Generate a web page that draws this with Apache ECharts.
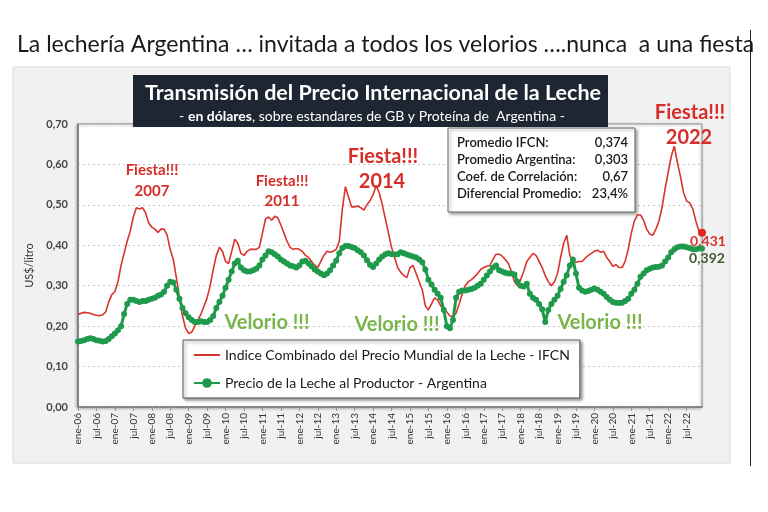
<!DOCTYPE html>
<html><head><meta charset="utf-8">
<script src="https://cdn.jsdelivr.net/npm/echarts@6.0.0/dist/echarts.min.js"></script>
<style>html,body{margin:0;padding:0;background:#fff}#c{width:768px;height:512px}</style>
</head><body><div id="c"></div>
<script>
// ---- DATA ----
const monthNames = ['ene','feb','mar','abr','may','jun','jul','ago','sep','oct','nov','dic'];
const yearLabels = ['06','07','08','09','10','11','12','13','14','15','16','17','18','19','20','21','22'];
const ifcn = [
0.228,0.232,0.234,0.233,0.232,0.229,0.227,0.226,0.228,0.235,
0.26,0.278,0.285,0.31,0.35,0.38,0.41,0.435,0.47,0.493,
0.49,0.493,0.48,0.455,0.445,0.44,0.432,0.44,0.44,0.425,
0.39,0.365,0.32,0.27,0.225,0.195,0.182,0.185,0.2,0.215,
0.23,0.25,0.27,0.3,0.34,0.375,0.395,0.385,0.36,0.355,
0.385,0.415,0.405,0.38,0.375,0.385,0.39,0.39,0.39,0.395,
0.43,0.465,0.47,0.462,0.472,0.468,0.45,0.43,0.41,0.395,
0.39,0.392,0.39,0.385,0.375,0.37,0.36,0.35,0.345,0.36,
0.375,0.385,0.383,0.385,0.39,0.41,0.49,0.545,0.52,0.495,
0.495,0.497,0.493,0.487,0.5,0.51,0.525,0.548,0.53,0.5,
0.465,0.43,0.395,0.37,0.345,0.333,0.325,0.32,0.345,0.35,
0.33,0.31,0.29,0.25,0.24,0.255,0.27,0.265,0.25,0.242,
0.235,0.225,0.223,0.232,0.255,0.28,0.3,0.31,0.315,0.322,
0.33,0.34,0.345,0.348,0.35,0.365,0.378,0.378,0.373,0.365,
0.355,0.335,0.31,0.3,0.315,0.335,0.36,0.37,0.38,0.375,
0.36,0.345,0.325,0.31,0.3,0.31,0.33,0.37,0.405,0.425,
0.375,0.36,0.358,0.36,0.36,0.368,0.375,0.38,0.385,0.388,
0.383,0.385,0.37,0.36,0.348,0.352,0.345,0.345,0.36,0.39,
0.43,0.46,0.475,0.475,0.462,0.44,0.428,0.425,0.44,0.46,
0.494,0.54,0.58,0.62,0.645,0.605,0.57,0.53,0.51,0.505,
0.49,0.46,0.435,0.431];
const argentina = [
0.162,0.163,0.165,0.168,0.17,0.168,0.165,0.164,0.162,0.163,
0.168,0.175,0.182,0.19,0.2,0.23,0.255,0.265,0.265,0.262,
0.26,0.262,0.262,0.265,0.268,0.27,0.275,0.278,0.285,0.3,
0.31,0.308,0.29,0.268,0.245,0.232,0.222,0.215,0.21,0.21,
0.212,0.21,0.21,0.215,0.225,0.245,0.26,0.275,0.295,0.315,
0.335,0.355,0.362,0.345,0.338,0.335,0.335,0.338,0.342,0.35,
0.365,0.375,0.385,0.383,0.378,0.372,0.365,0.36,0.355,0.35,
0.348,0.345,0.35,0.36,0.362,0.355,0.348,0.34,0.335,0.33,
0.326,0.33,0.338,0.35,0.362,0.38,0.393,0.398,0.398,0.396,
0.393,0.388,0.383,0.375,0.363,0.352,0.346,0.355,0.365,0.372,
0.378,0.38,0.378,0.377,0.378,0.383,0.38,0.377,0.375,0.372,
0.37,0.365,0.358,0.34,0.315,0.303,0.29,0.28,0.27,0.24,
0.2,0.195,0.215,0.27,0.285,0.288,0.288,0.29,0.292,0.295,
0.3,0.305,0.315,0.325,0.335,0.345,0.35,0.338,0.335,0.332,
0.33,0.33,0.328,0.31,0.3,0.298,0.305,0.28,0.27,0.265,
0.255,0.242,0.21,0.24,0.255,0.265,0.275,0.292,0.31,0.326,
0.35,0.365,0.33,0.295,0.288,0.285,0.287,0.29,0.293,0.29,
0.285,0.28,0.272,0.265,0.26,0.258,0.257,0.258,0.262,0.268,
0.28,0.29,0.305,0.322,0.33,0.338,0.342,0.345,0.346,0.347,
0.35,0.36,0.37,0.383,0.39,0.395,0.397,0.397,0.395,0.393,
0.39,0.39,0.392,0.392];
const seriesNames = ['Indice Combinado del Precio Mundial de la Leche - IFCN','Precio de la Leche al Productor - Argentina'];
const statLabels = ['Promedio IFCN:','Promedio Argentina:','Coef. de Correlación:','Diferencial Promedio:'];
const statValues = ['0,374','0,303','0,67','23,4%'];
const endLabels = ['0,431','0,392'];

// ---- BUILD ----
const categories = [];
yearLabels.forEach(y => monthNames.forEach(m => categories.push(m + '-' + y)));
const last = ifcn.length - 1;
const FONT = 'Lato, "Open Sans", sans-serif';
const RED = '#d9342b', GREEN = '#1f9a4c', FIESTA = '#d52e28', VELORIO = '#78b64c';

function txt(x, y, text, size, color, weight, align) {
  return {type: 'text', x: x, y: y, z: 100, style: {text: text, fontSize: size, fill: color,
    fontWeight: weight || 'bold', fontFamily: FONT, align: align || 'center', verticalAlign: 'middle'}};
}

const graphics = [
  {type: 'rect', shape: {x: 13, y: 67, width: 717, height: 396}, z: -10, silent: true,
   style: {fill: '#f1f1f1', stroke: '#dadada', lineWidth: 1}},
  {type: 'line', shape: {x1: 750.5, y1: 30, x2: 750.5, y2: 466}, style: {stroke: '#222', lineWidth: 1}},
  txt(17, 45, 'La lechería Argentina … invitada a todos los velorios ….nunca  a una fiesta', 23, '#1a1a1a', 'normal', 'left'),
  {type: 'rect', shape: {x: 133, y: 75, width: 475, height: 52}, z: 90,
   style: {fill: '#1d2632'}},
  txt(373, 93, 'Transmisión del Precio Internacional de la Leche', 21.5, '#ffffff', 'bold'),
  {type: 'text', x: 372, y: 116, z: 100, style: {
    text: '- {b|en dólares}, sobre estandares de GB y Proteína de  Argentina -',
    rich: {b: {fontWeight: 'bold', fontSize: 14, fill: '#ffffff', fontFamily: FONT}},
    fontSize: 14, fill: '#ffffff', fontFamily: FONT, align: 'center', verticalAlign: 'middle'}},
  {type: 'rect', shape: {x: 448, y: 128, width: 187, height: 84}, z: 90,
   style: {fill: '#ffffff', stroke: '#666', lineWidth: 1, shadowBlur: 3, shadowOffsetX: 2, shadowOffsetY: 2, shadowColor: 'rgba(0,0,0,0.35)'}}
];
statLabels.forEach((s, i) => {
  graphics.push(txt(457, 143 + i * 17, s, 13, '#1a1a1a', '600', 'left'));
  graphics.push(txt(628, 143 + i * 17, statValues[i], 13, '#1a1a1a', '600', 'right'));
});
// annotations
graphics.push(txt(152, 170, 'Fiesta!!!', 15, FIESTA));
graphics.push(txt(152, 191, '2007', 15, FIESTA));
graphics.push(txt(282, 181, 'Fiesta!!!', 15, FIESTA));
graphics.push(txt(282, 201, '2011', 15, FIESTA));
graphics.push(txt(383, 157, 'Fiesta!!!', 20, FIESTA));
graphics.push(txt(382, 182, '2014', 20, FIESTA));
graphics.push(txt(690, 113, 'Fiesta!!!', 20, FIESTA));
graphics.push(txt(689, 138, '2022', 20, FIESTA));
graphics.push(txt(267, 323, 'Velorio !!!', 20, VELORIO));
graphics.push(txt(397, 325, 'Velorio !!!', 20, VELORIO));
graphics.push(txt(600, 323, 'Velorio !!!', 20, VELORIO));

const chart = echarts.init(document.getElementById('c'), null, {renderer: 'canvas'});
chart.setOption({
  animation: false,
  backgroundColor: '#ffffff',
  textStyle: {fontFamily: FONT},
  grid: {left: 78, right: 66, top: 124, bottom: 105, show: true, backgroundColor: '#ffffff',
    borderColor: '#8a8a8a', borderWidth: 1, shadowColor: 'rgba(0,0,0,0.3)', shadowBlur: 3, shadowOffsetX: -1, shadowOffsetY: 1},
  legend: {
    left: 183, top: 340, orient: 'vertical', itemWidth: 26, itemHeight: 12, itemGap: 14,
    padding: [8, 10, 8, 10], backgroundColor: '#ffffff', borderColor: '#555', borderWidth: 1,
    shadowColor: 'rgba(0,0,0,0.4)', shadowBlur: 3, shadowOffsetX: 2, shadowOffsetY: 2,
    textStyle: {fontSize: 14, color: '#1a1a1a', fontFamily: FONT},
    data: [{name: seriesNames[0], icon: 'path://M0,0 H26 V2 H0 Z'}, {name: seriesNames[1]}]
  },
  xAxis: {
    type: 'category', data: categories, boundaryGap: false,
    axisLine: {lineStyle: {color: '#777', width: 1.5}},
    axisTick: {show: true, interval: 5, length: 4, lineStyle: {color: '#999'}},
    axisLabel: {interval: 5, rotate: 90, fontSize: 10, color: '#333', margin: 6, fontFamily: FONT},
    splitLine: {show: false}
  },
  yAxis: {
    type: 'value', min: 0, max: 0.7, interval: 0.1,
    name: 'US$/litro', nameLocation: 'middle', nameGap: 41, nameRotate: 90,
    nameTextStyle: {fontSize: 11, color: '#333', fontFamily: FONT},
    axisLine: {show: true, lineStyle: {color: '#777', width: 1.5}},
    axisTick: {show: false},
    axisLabel: {formatter: v => v.toFixed(2).replace('.', ','), fontSize: 11, fontWeight: 'bold', color: '#444', margin: 10, fontFamily: FONT},
    splitLine: {show: true, lineStyle: {color: '#c8c8c8', type: [2, 3], width: 1}}
  },
  series: [
    {name: seriesNames[0], type: 'line', data: ifcn, symbol: 'none', z: 3,
     color: RED, lineStyle: {color: RED, width: 1.6},
     markPoint: {silent: true, data: [{coord: [last, ifcn[last]], symbol: 'circle', symbolSize: 8,
       itemStyle: {color: '#e8221b'},
       label: {show: true, formatter: endLabels[0], position: 'inside', offset: [6, 9],
         color: '#d9342b', fontWeight: 'bold', fontSize: 14, fontFamily: FONT}}]}},
    {name: seriesNames[1], type: 'line', data: argentina, symbol: 'circle', symbolSize: 6,
     showSymbol: true, showAllSymbol: true, z: 4,
     color: GREEN, itemStyle: {color: GREEN}, lineStyle: {color: GREEN, width: 3}},
    {name: 'endGreen', type: 'line', data: [],
     markPoint: {silent: true, data: [{coord: [last, argentina[last]], symbol: 'circle', symbolSize: 1,
       itemStyle: {color: 'rgba(0,0,0,0)'},
       label: {show: true, formatter: endLabels[1], position: 'inside', offset: [5, 10],
         color: '#3f5b2c', fontWeight: 'bold', fontSize: 14, fontFamily: FONT}}]}}
  ],
  graphic: graphics
});
</script></body></html>
